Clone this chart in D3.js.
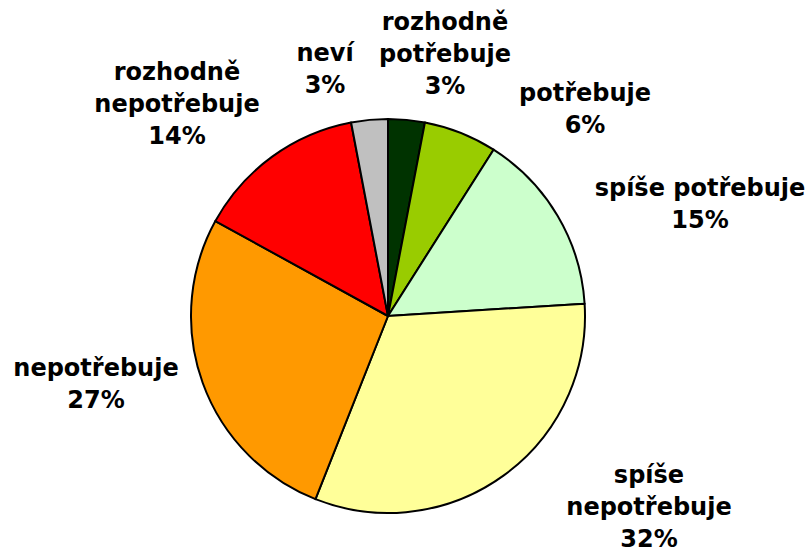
<!DOCTYPE html>
<html>
<head>
<meta charset="utf-8">
<script src="https://cdn.jsdelivr.net/npm/d3@7"></script>
<style>
  body { margin: 0; background: #fff; }
</style>
</head>
<body>
<div id="vis"></div>
<script>
// data, clockwise from 12 o'clock
const categories = ["rozhodně potřebuje", "potřebuje", "spíše potřebuje", "spíše nepotřebuje", "nepotřebuje", "rozhodně nepotřebuje", "neví"];
const values = [3, 6, 15, 32, 27, 14, 3];
const colors = ["#003300", "#99CC00", "#CCFFCC", "#FFFF99", "#FF9900", "#FF0000", "#C0C0C0"];

// label text lines and where Excel put them (center x, first line center y)
const labelLines = [
    ["rozhodně", "potřebuje"],
    ["potřebuje"],
    ["spíše potřebuje"],
    ["spíše", "nepotřebuje"],
    ["nepotřebuje"],
    ["rozhodně", "nepotřebuje"],
    ["neví"]
];
const labelPos = [[445, 22], [585, 93], [700, 188], [649, 475], [96, 368], [177, 72], [325, 53]];

const width = 809;
const height = 554;
const cx = 388, cy = 316, radius = 197;
const lineH = 32;

const svg = d3.create('svg')
    .attr('width', width)
    .attr('height', height);

const color = d3.scaleOrdinal().domain(categories).range(colors);

const pie = d3.pie().sort(null).value(d => d.value);
const arc = d3.arc().innerRadius(0).outerRadius(radius);

const data = categories.map((c, i) => ({name: c, value: values[i], i: i}));

const g = svg.append('g')
    .attr('transform', `translate(${cx},${cy})`);

g.selectAll('path')
    .data(pie(data))
    .join('path')
    .attr('d', arc)
    .attr('fill', d => color(d.data.name))
    .attr('stroke', '#000')
    .attr('stroke-width', 2)
    .attr('stroke-linejoin', 'round');

// labels
const labels = svg.append('g')
    .attr('font-family', 'Verdana, DejaVu Sans, sans-serif')
    .attr('font-weight', 700)
    .attr('font-size', 24)
    .attr('fill', '#000')
    .attr('text-anchor', 'middle');

data.forEach((d, i) => {
    const lines = labelLines[i].concat([d.value + '%']);
    const t = labels.append('text')
        .attr('x', labelPos[i][0])
        .attr('y', labelPos[i][1]);
    lines.forEach((l, k) => {
        t.append('tspan')
            .attr('x', labelPos[i][0])
            .attr('y', labelPos[i][1] + k * lineH)
            .attr('dy', '0.35em')
            .text(l);
    });
});

document.getElementById("vis").appendChild(svg.node());
</script>
</body>
</html>
